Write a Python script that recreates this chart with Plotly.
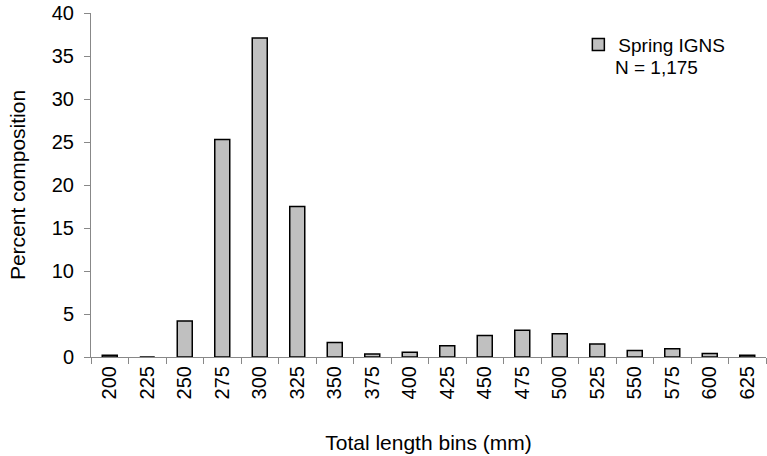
import plotly.graph_objects as go

categories = ["200", "225", "250", "275", "300", "325", "350", "375", "400",
              "425", "450", "475", "500", "525", "550", "575", "600", "625"]
percent = [0.2, 0.0, 4.2, 25.3, 37.1, 17.5, 1.7, 0.35, 0.55,
           1.3, 2.5, 3.1, 2.7, 1.5, 0.75, 0.95, 0.4, 0.2]
y_ticks = [0, 5, 10, 15, 20, 25, 30, 35, 40]

font = dict(family="Liberation Sans, Arial, sans-serif", size=20, color="black")

fig = go.Figure()
fig.add_trace(go.Bar(
    x=categories, y=percent, name="Spring IGNS",
    marker=dict(color="#C0C0C0", line=dict(color="black", width=1.5)),
))

fig.update_layout(
    width=767, height=456,
    margin=dict(l=91, r=1, t=13, b=99, autoexpand=False),
    paper_bgcolor="white", plot_bgcolor="white",
    font=font,
    bargap=0.6,
    showlegend=True,
    legend=dict(x=0.722, y=0.963, xanchor="left", yanchor="top",
                font=dict(size=19), bgcolor="rgba(0,0,0,0)",
                itemwidth=30),
    xaxis=dict(
        type="category", tickangle=-90, tickson="boundaries",
        ticks="outside", ticklen=6, tickcolor="#888", tickwidth=1,
        showline=True, linecolor="#888", linewidth=1,
        showgrid=False, tickfont=dict(size=20), automargin=False,
        title=dict(text="Total length bins (mm)", font=dict(size=21), standoff=36),
    ),
    yaxis=dict(
        range=[0, 40], tickvals=y_ticks, ticks="outside", ticklen=6,
        tickcolor="#888", showline=True, linecolor="#888", linewidth=1,
        showgrid=False, zeroline=False, tickfont=dict(size=20), automargin=False,
        ticklabelstandoff=6,
        title=dict(text="Percent composition", font=dict(size=21), standoff=20),
    ),
    annotations=[dict(text="N = 1,175", x=0.774, y=0.843, xref="paper", yref="paper",
                      xanchor="left", yanchor="middle", showarrow=False,
                      font=dict(size=19))],
)

fig.write_html("out.html", config={"displayModeBar": False},
               post_script="document.body.style.margin='0';")
